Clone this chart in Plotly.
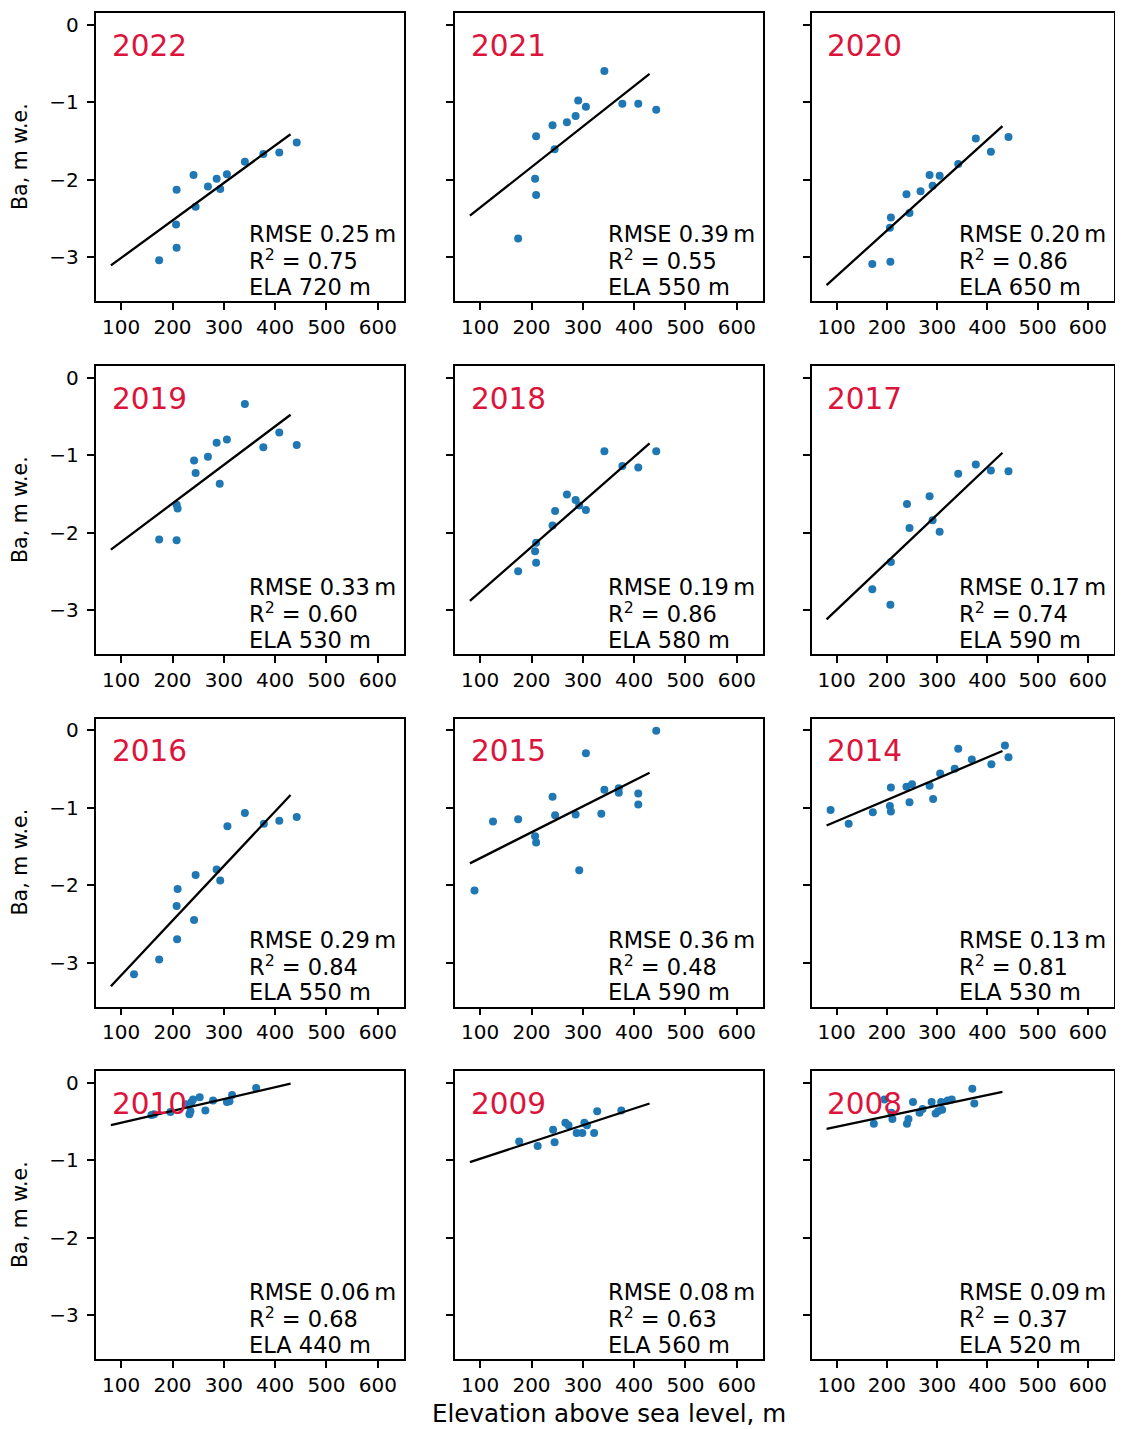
import plotly.graph_objects as go

# ---------------- data ----------------
years = ["2022", "2021", "2020", "2019", "2018", "2017", "2016", "2015", "2014", "2010", "2009", "2008"]

x_2022 = [174, 208, 207, 245, 208, 241, 269, 286, 293, 306, 341, 377, 408, 442]
y_2022 = [-3.04, -2.88, -2.58, -2.35, -2.13, -1.94, -2.09, -1.99, -2.12, -1.93, -1.77, -1.67, -1.65, -1.52]

x_2021 = [174, 209, 207, 245, 209, 241, 269, 286, 291, 306, 342, 377, 408, 443]
y_2021 = [-2.76, -2.20, -1.99, -1.61, -1.44, -1.30, -1.26, -1.18, -0.98, -1.06, -0.60, -1.02, -1.02, -1.10]

x_2020 = [171, 207, 206, 208, 245, 239, 267, 285, 291, 305, 342, 377, 407, 442]
y_2020 = [-3.09, -3.06, -2.62, -2.49, -2.43, -2.19, -2.15, -1.94, -2.08, -1.95, -1.80, -1.47, -1.64, -1.45]

x_2019 = [174, 208, 208, 210, 292, 245, 242, 269, 286, 306, 341, 377, 408, 442]
y_2019 = [-2.09, -2.10, -1.64, -1.69, -1.37, -1.23, -1.07, -1.02, -0.84, -0.80, -0.34, -0.90, -0.71, -0.87]

x_2018 = [174, 209, 207, 209, 241, 246, 269, 286, 293, 306, 342, 377, 408, 443]
y_2018 = [-2.50, -2.39, -2.24, -2.13, -1.91, -1.72, -1.51, -1.58, -1.65, -1.71, -0.95, -1.14, -1.16, -0.95]

x_2017 = [171, 207, 208, 245, 240, 285, 291, 305, 342, 377, 407, 442]
y_2017 = [-2.73, -2.93, -2.38, -1.94, -1.63, -1.53, -1.84, -1.99, -1.24, -1.12, -1.20, -1.21]

x_2016 = [125, 174, 209, 242, 208, 210, 245, 286, 293, 307, 341, 378, 408, 442]
y_2016 = [-3.15, -2.96, -2.70, -2.45, -2.27, -2.05, -1.87, -1.80, -1.94, -1.24, -1.07, -1.21, -1.17, -1.12]

x_2015 = [89, 125, 174, 207, 209, 241, 246, 286, 293, 306, 336, 342, 370, 370, 408, 408, 443]
y_2015 = [-2.07, -1.18, -1.15, -1.37, -1.45, -0.86, -1.10, -1.09, -1.81, -0.30, -1.08, -0.77, -0.75, -0.81, -0.82, -0.96, -0.01]

x_2014 = [88, 124, 172, 206, 208, 208, 239, 245, 250, 285, 292, 306, 335, 342, 369, 408, 435, 442]
y_2014 = [-1.03, -1.21, -1.06, -0.98, -1.05, -0.74, -0.73, -0.93, -0.70, -0.72, -0.89, -0.56, -0.50, -0.24, -0.38, -0.44, -0.20, -0.35]

x_2010 = [159, 164, 196, 226, 233, 235, 237, 240, 253, 264, 279, 306, 311, 316, 363]
y_2010 = [-0.42, -0.41, -0.38, -0.28, -0.41, -0.37, -0.25, -0.22, -0.19, -0.36, -0.23, -0.25, -0.24, -0.16, -0.07]

x_2009 = [176, 212, 242, 245, 266, 272, 288, 299, 303, 308, 322, 328, 375]
y_2009 = [-0.76, -0.82, -0.61, -0.77, -0.52, -0.55, -0.65, -0.65, -0.52, -0.55, -0.65, -0.37, -0.36]

x_2008 = [174, 195, 211, 209, 240, 243, 252, 265, 271, 289, 297, 302, 308, 310, 321, 329, 370, 374]
y_2008 = [-0.53, -0.22, -0.47, -0.39, -0.53, -0.47, -0.25, -0.39, -0.34, -0.25, -0.40, -0.37, -0.25, -0.35, -0.23, -0.22, -0.08, -0.27]

x_values = [x_2022, x_2021, x_2020, x_2019, x_2018, x_2017, x_2016, x_2015, x_2014, x_2010, x_2009, x_2008]
y_values = [y_2022, y_2021, y_2020, y_2019, y_2018, y_2017, y_2016, y_2015, y_2014, y_2010, y_2009, y_2008]

# regression line end points (elevation 80 m and 430 m)
fit_x = [80, 430]
fit_y_start = [-3.107, -2.466, -3.361, -2.22, -2.88, -3.12, -3.305, -1.72, -1.231, -0.549, -1.026, -0.596]
fit_y_end = [-1.415, -0.637, -1.31, -0.48, -0.85, -0.97, -0.837, -0.55, -0.27, -0.015, -0.27, -0.12]

rmse = ["0.25", "0.39", "0.20", "0.33", "0.19", "0.17", "0.29", "0.36", "0.13", "0.06", "0.08", "0.09"]
r2 = ["0.75", "0.55", "0.86", "0.60", "0.86", "0.74", "0.84", "0.48", "0.81", "0.68", "0.63", "0.37"]
ela = ["720", "550", "650", "530", "580", "590", "550", "590", "530", "440", "560", "520"]

x_ticks = [100, 200, 300, 400, 500, 600]
y_ticks = [0, -1, -2, -3]
x_range = [50, 651]
y_range = [-3.566, 0.149]

# ---------------- layout geometry ----------------
# the page body adds an 8px margin, so the figure is drawn 8px in from the corner;
# keep the figure inside the visible window
OFF = 8
W, H = 1123 - 2 * OFF, 1429 - OFF
col_px = [(95.5, 404), (454.5, 763), (811.5, 1113.5)]
row_px = [(13, 301), (366, 654), (718.5, 1006.5), (1071, 1359)]


def px_x(p):
    return (p - OFF) / W


def px_y(p):
    return 1 - (p - OFF) / H


FONT = "DejaVu Sans"
BLUE = "#1f77b4"
RED = "#dc143c"

fig = go.Figure()
layout = dict(
    width=W, height=H,
    margin=dict(l=0, r=0, t=0, b=0),
    paper_bgcolor="white", plot_bgcolor="white",
    showlegend=False,
    font=dict(family=FONT, color="black", size=20),
)
annotations = []

for i, yr in enumerate(years):
    r, c = divmod(i, 3)
    n = i + 1
    xa = "x" if n == 1 else f"x{n}"
    ya = "y" if n == 1 else f"y{n}"
    xd = [px_x(col_px[c][0]), min(1.0, px_x(col_px[c][1]))]
    yd = [px_y(row_px[r][1]), px_y(row_px[r][0])]

    fig.add_trace(go.Scatter(
        x=x_values[i], y=y_values[i], mode="markers",
        marker=dict(color=BLUE, size=8, line=dict(width=0)),
        xaxis=xa, yaxis=ya, hoverinfo="skip"))
    fig.add_trace(go.Scatter(
        x=fit_x, y=[fit_y_start[i], fit_y_end[i]], mode="lines",
        line=dict(color="black", width=2.3),
        xaxis=xa, yaxis=ya, hoverinfo="skip"))

    axis_common = dict(
        showline=True, linecolor="black", linewidth=1.6, mirror=True,
        ticks="outside", ticklen=7, tickwidth=1.6, tickcolor="black",
        showgrid=False, zeroline=False,
        tickfont=dict(family=FONT, size=20, color="black"),
    )
    layout[f"xaxis{n}" if n > 1 else "xaxis"] = dict(
        axis_common, domain=xd, range=x_range, tickvals=x_ticks,
        anchor=ya, fixedrange=True)
    layout[f"yaxis{n}" if n > 1 else "yaxis"] = dict(
        axis_common, domain=yd, range=y_range, tickvals=y_ticks,
        showticklabels=(c == 0), ticklabelstandoff=4, anchor=xa, fixedrange=True)

    xdom = f"{xa} domain"
    ydom = f"{ya} domain"
    annotations.append(dict(
        text=yr, xref=xdom, yref=ydom, x=0.046, y=0.952,
        xanchor="left", yanchor="top", showarrow=False,
        font=dict(family=FONT, size=29.5, color=RED)))
    stats = [f"RMSE {rmse[i]}\u2009m", f"R<sup>2</sup> = {r2[i]}", f"ELA {ela[i]} m"]
    ys = [0.180, 0.0855, -0.002]
    sx = 0.492 if c < 2 else 0.482
    for t, yy in zip(stats, ys):
        annotations.append(dict(
            text=t, xref=xdom, yref=ydom, x=sx, y=yy,
            xanchor="left", yanchor="bottom", showarrow=False,
            font=dict(family=FONT, size=22.5, color="black")))

# y-axis titles per row
for r in range(4):
    yc = px_y((row_px[r][0] + row_px[r][1]) / 2)
    annotations.append(dict(
        text="Ba, m w.e.", xref="paper", yref="paper", x=px_x(20), y=yc,
        xanchor="center", yanchor="middle", textangle=-90, showarrow=False,
        font=dict(family=FONT, size=20.5, color="black")))

# common x-axis title
annotations.append(dict(
    text="Elevation above sea level, m", xref="paper", yref="paper",
    x=px_x(609), y=px_y(1413.5), xanchor="center", yanchor="middle",
    showarrow=False, font=dict(family=FONT, size=24.6, color="black")))

layout["annotations"] = annotations
fig.update_layout(**layout)
fig.write_html("out.html")
